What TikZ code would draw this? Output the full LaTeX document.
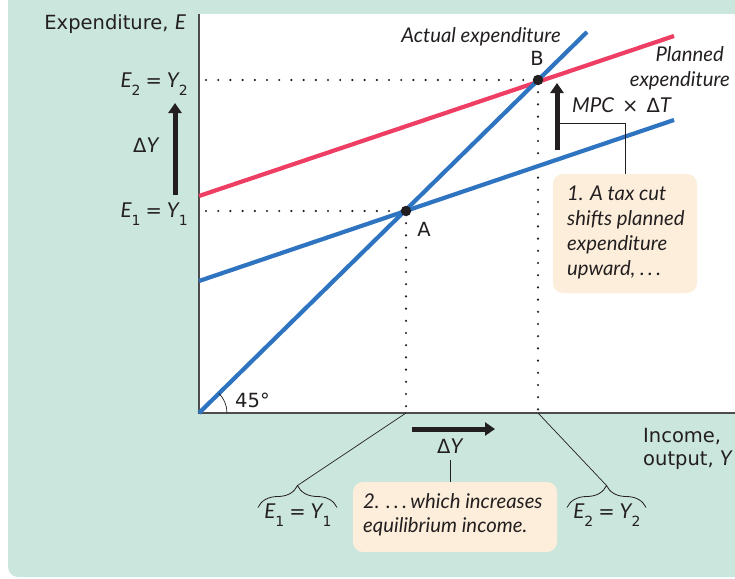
\documentclass[tikz,border=0pt]{standalone}
\usepackage{fontspec}
\setmainfont{DejaVu Sans}
\newfontfamily\latofam{Lato}
\usetikzlibrary{arrows.meta,decorations.pathreplacing}
\definecolor{bgteal}{HTML}{CBE6DD}
\definecolor{lineblue}{HTML}{2E74C1}
\definecolor{linered}{HTML}{EE3E63}
\definecolor{notecream}{HTML}{FCEEDA}
\definecolor{ink}{HTML}{231F20}
\definecolor{axisgray}{HTML}{4D4D4D}
\newcommand{\upf}{\fontsize{19.5}{23}\selectfont}
\newcommand{\itf}{\latofam\itshape\fontsize{20.3}{25}\selectfont}
\newcommand{\iv}[1]{{\latofam\itshape\fontsize{20.5}{22}\selectfont #1}}
\newcommand{\sbs}[1]{\raisebox{-8pt}{\fontsize{14}{14}\selectfont #1}}
\newcommand{\eqsp}{\hspace{5pt}=\hspace{5pt}}
\tikzset{
  lbl/.style={text=ink, inner sep=0pt, font=\upf},
  ilbl/.style={text=ink, inner sep=0pt, font=\itf},
  curveblue/.style={draw=lineblue, line width=4.2pt},
  curvered/.style={draw=linered, line width=4.2pt},
  dotline/.style={draw=ink, line width=2.4pt, line cap=round, dash pattern=on 0pt off 12.2pt},
  bigarrow/.style={draw=ink, line width=5pt, -{Triangle[length=10pt,width=13pt]}},
  thinline/.style={draw=ink, line width=0.7pt},
  notebox/.style={fill=notecream, rounded corners=10pt, inner sep=0pt},
  eqdot/.style={circle, fill=ink, inner sep=0pt, minimum size=10.5pt},
  bracestyle/.style={draw=ink, line width=0.8pt, decorate, decoration={brace, amplitude=22pt}},
}
\begin{document}
\begin{tikzpicture}[x=1pt,y=-1pt]
\useasboundingbox (0,0) rectangle (735,578);
\fill[bgteal, rounded corners=10pt] (8,-12) rectangle (750,577);
\fill[white] (199,14) rectangle (740,413);

% axes
\coordinate (O) at (199,413);
\coordinate (ytop) at (199,14);
\coordinate (xend) at (735,413);
\draw[draw=axisgray, line width=1.6pt] (ytop) -- (O) -- (xend);

% equilibrium points and guide ends
\coordinate (Ap) at (406,211);
\coordinate (Bp) at (538,80);
\coordinate (yE1) at (206,211);
\coordinate (yE2) at (206,80);
\coordinate (xE1) at (406,413);
\coordinate (xE2) at (538,413);

% dotted guides
\draw[dotline] (yE2) -- (Bp);
\draw[dotline] (yE1) -- (Ap);
\draw[dotline] (Ap) -- (xE1);
\draw[dotline] (Bp) -- (xE2);

% lines
\coordinate (a45) at (587,32);
\coordinate (p1s) at (199,281);
\coordinate (p1e) at (674,120);
\coordinate (p2s) at (199,196);
\coordinate (p2e) at (674,36);
\draw[curveblue] (p1s) -- (p1e);
\draw[curvered] (p2s) -- (p2e);
\draw[curveblue] (O) -- (a45);
\node[eqdot] (A) at (Ap) {};
\node[eqdot] (B) at (Bp) {};

% 45 degree
\draw[thinline] ([shift={(0:28)}]O) arc[start angle=0, end angle=-45, radius=28];
\node[lbl, anchor=base west] (deg) at (235,407) {45°};

% point labels
\node[lbl, anchor=base] (Alab) at (424,236) {A};
\node[lbl, anchor=base] (Blab) at (537,66) {B};

% axis labels
\node[lbl, anchor=base east] (ylab) at (186,30) {Expenditure, \iv{E}};
\node[lbl, anchor=base west] (xlab1) at (643,442) {Income,};
\node[lbl, anchor=base west] (xlab2) at (643,465) {output, \iv{Y}};
\node[lbl, anchor=base east] (e2lab) at (188,87) {\iv{E}\sbs{2}\eqsp\iv{Y}\sbs{2}};
\node[lbl, anchor=base east] (e1lab) at (188,217) {\iv{E}\sbs{1}\eqsp\iv{Y}\sbs{1}};

% curve labels
\node[ilbl, anchor=base] (actlab) at (481,42) {Actual expenditure};
\node[ilbl, anchor=base east] (planlab1) at (724,62) {Planned};
\node[ilbl, anchor=base east] (planlab2) at (730,86) {expenditure};

% vertical dY arrow
\coordinate (dys) at (175,195);
\coordinate (dye) at (175,103);
\draw[bigarrow] (dys) -- (dye);
\node[lbl, anchor=base west] (dylab) at (133,152) {Δ\iv{Y}};

% MPC arrow
\coordinate (ms) at (557,150);
\coordinate (me) at (557,83);
\draw[bigarrow] (ms) -- (me);
\node[lbl, anchor=base west] (mpclab) at (572,112) {\iv{MPC}\hspace{8pt}×\hspace{8pt}Δ\iv{T}};
\coordinate (mc) at (559,123);

% note 1
\node[notebox, minimum width=144pt, minimum height=119pt] (n1) at (625,233.5) {};
\node[ilbl, anchor=base west] (n1a) at (567,200) {1. A tax cut};
\node[ilbl, anchor=base west] (n1b) at (567,225) {shifts planned};
\node[ilbl, anchor=base west] (n1c) at (567,250) {expenditure};
\node[ilbl, anchor=base west] (n1d) at (567,275) {upward, .\,.\,.};
\draw[thinline] (mc) -| (n1.north);

% horizontal dY arrow
\coordinate (dxs) at (412,429);
\coordinate (dxe) at (495,429);
\draw[bigarrow] (dxs) -- (dxe);
\node[lbl, anchor=base west] (dxlab) at (437,453) {Δ\iv{Y}};
\coordinate (dxl) at (450,460);

% note 2
\node[notebox, minimum width=204pt, minimum height=70pt] (n2) at (455,517) {};
\node[ilbl, anchor=base west] (n2a) at (363,508) {2. .\,.\,.\,which increases};
\node[ilbl, anchor=base west] (n2b) at (363,532) {equilibrium income.};
\draw[thinline] (dxl) -- (dxl |- n2.north);

% braces
\draw[bracestyle] (258,507.5) -- (337,507.5);
\coordinate (b1tip) at (297.5,485.5);
\node[lbl, anchor=base] (e1b) at (298,518) {\iv{E}\sbs{1}\eqsp\iv{Y}\sbs{1}};
\draw[thinline] (b1tip) -- (xE1);
\draw[bracestyle] (567,507.5) -- (646,507.5);
\coordinate (b2tip) at (606.5,485.5);
\node[lbl, anchor=base] (e2b) at (607,518) {\iv{E}\sbs{2}\eqsp\iv{Y}\sbs{2}};
\draw[thinline] (b2tip) -- (xE2);
\end{tikzpicture}
\end{document}
